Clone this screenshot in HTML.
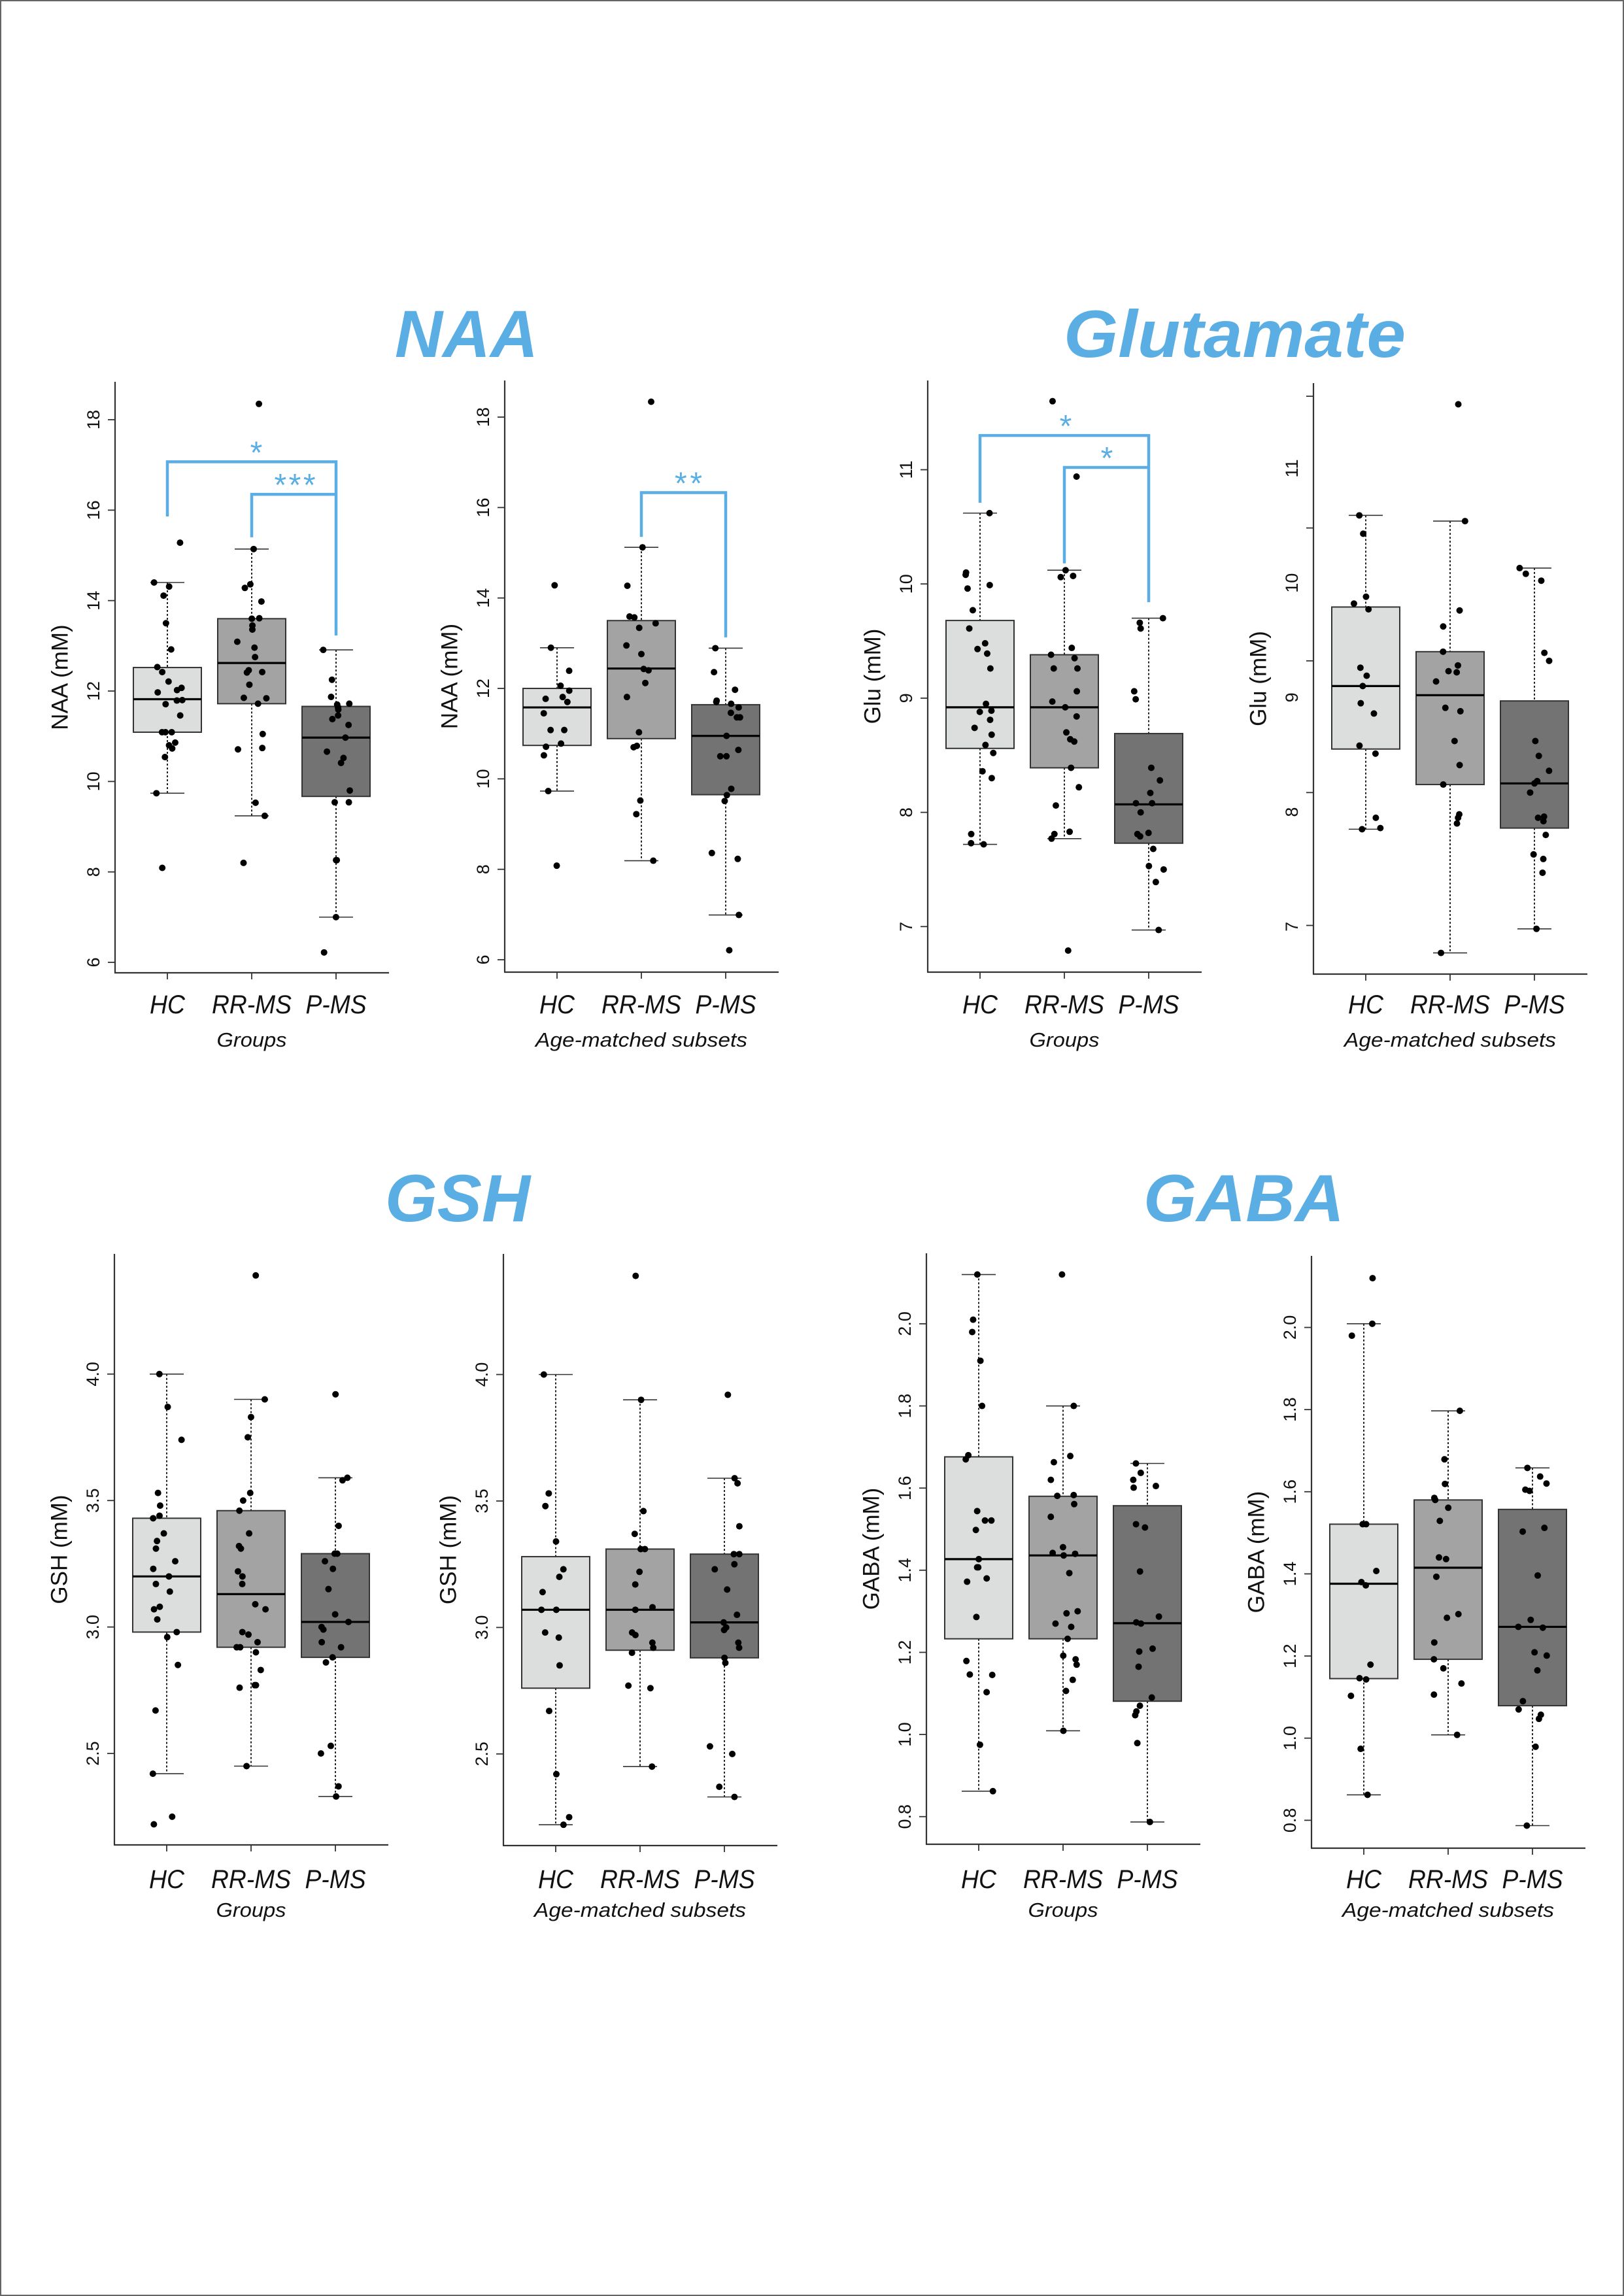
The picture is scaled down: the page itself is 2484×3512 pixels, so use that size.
<!DOCTYPE html>
<html><head><meta charset="utf-8"><title>MRS metabolite box plots</title>
<style>
html,body{margin:0;padding:0;background:#fff;}
svg{display:block;}
.tick{font-family:"Liberation Sans Narrow","Liberation Sans",sans-serif;font-size:27px;fill:#111;}
.ytitle{font-family:"Liberation Sans Narrow","Liberation Sans",sans-serif;font-size:35px;fill:#111;}
.cat{font-family:"Liberation Sans",sans-serif;font-style:italic;font-size:40px;fill:#111;}
.sub{font-family:"Liberation Sans",sans-serif;font-style:italic;font-size:31px;fill:#111;}
.title{font-family:"Liberation Sans",sans-serif;font-style:italic;font-weight:bold;font-size:102px;fill:#5aaee3;}
.star{font-family:"Liberation Sans",sans-serif;font-size:48px;fill:#5aaee3;}
</style></head>
<body>
<svg id="fig" width="2484" height="3512" viewBox="0 0 2484 3512" xmlns="http://www.w3.org/2000/svg">
<rect x="1" y="1" width="2482" height="3510" fill="#fff" stroke="#666" stroke-width="2"/>
<text class="title" x="604" y="546" textLength="219" lengthAdjust="spacingAndGlyphs">NAA</text>
<text class="title" x="1627" y="546" textLength="523" lengthAdjust="spacingAndGlyphs">Glutamate</text>
<text class="title" x="589" y="1868" textLength="222" lengthAdjust="spacingAndGlyphs">GSH</text>
<text class="title" x="1749" y="1868" textLength="307" lengthAdjust="spacingAndGlyphs">GABA</text>
</svg>
<script>
const categories = ["HC","RR-MS","P-MS"];

// ---- NAA groups ----
const naaGrpBoxes = [[9.74,11.09,11.82,12.52,14.40],[9.24,11.72,12.62,13.60,15.14],[7.00,9.67,10.97,11.66,12.91]];
const naaGrpHC = [15.28,14.40,14.31,14.11,13.50,12.92,12.53,12.42,12.21,12.07,12.02,11.97,11.80,11.79,11.71,11.46,11.09,11.09,11.09,10.86,10.80,10.73,10.54,9.74,8.09];
const naaGrpRR = [18.35,15.14,14.36,14.28,13.98,13.61,13.60,13.45,13.36,13.09,12.96,12.75,12.46,12.42,12.41,12.14,11.85,11.84,11.72,11.05,10.74,10.71,9.53,9.24,8.20];
const naaGrpP = [12.91,12.25,11.87,11.72,11.70,11.64,11.63,11.59,11.46,11.38,11.25,10.97,10.66,10.52,10.41,9.80,9.54,9.54,8.26,8.26,7.00,6.22];
// ---- NAA age-matched ----
const naaAgeBoxes = [[9.73,10.74,11.58,12.00,12.90],[8.19,10.89,12.44,13.50,15.12],[6.99,9.65,10.95,11.64,12.89]];
const naaAgeHC = [14.28,12.90,12.39,12.06,11.95,11.81,11.77,11.70,11.45,11.08,11.08,10.78,10.71,10.52,9.73,8.08];
const naaAgeRR = [18.34,15.12,14.27,13.59,13.57,13.44,13.34,12.95,12.76,12.43,12.40,12.12,11.81,11.03,10.73,10.70,9.52,9.22,8.19];
const naaAgeP = [12.89,12.36,11.97,11.73,11.70,11.66,11.58,11.46,11.36,11.36,10.95,10.64,10.50,10.50,9.78,9.64,9.51,8.36,8.23,6.99,6.21];
const naaTicks = [6,8,10,12,14,16,18];
const naaTickLabels = ["6","8","10","12","14","16","18"];
// ---- Glu groups ----
const gluGrpBoxes = [[7.72,8.56,8.92,9.68,10.62],[7.77,8.39,8.92,9.38,10.12],[6.97,7.73,8.07,8.69,9.70]];
const gluGrpHC = [10.62,10.10,10.08,9.99,9.96,9.77,9.61,9.48,9.43,9.39,9.26,8.95,8.89,8.88,8.81,8.74,8.68,8.59,8.52,8.36,8.30,7.81,7.73,7.72];
const gluGrpRR = [11.60,10.94,10.12,10.07,10.06,9.44,9.38,9.35,9.26,9.26,9.06,8.97,8.92,8.84,8.70,8.64,8.62,8.39,8.22,8.06,7.83,7.81,7.77,6.79];
const gluGrpP = [9.70,9.66,9.61,9.06,8.99,8.39,8.28,8.17,8.08,8.08,8.00,7.82,7.81,7.79,7.68,7.53,7.50,7.39,6.97];
// ---- Glu age-matched ----
const gluAgeBoxes = [[7.85,8.55,9.10,9.79,10.59],[6.77,8.24,9.02,9.40,10.54],[6.98,7.86,8.25,8.97,10.13]];
const gluAgeHC = [10.59,10.43,9.88,9.82,9.77,9.26,9.19,9.10,8.95,8.86,8.58,8.51,7.95,7.86,7.85];
const gluAgeRR = [11.56,10.54,9.76,9.62,9.40,9.28,9.23,9.22,9.14,8.91,8.88,8.62,8.41,8.24,7.98,7.95,7.90,6.77];
const gluAgeP = [10.13,10.08,10.02,9.39,9.32,8.62,8.49,8.36,8.27,8.25,8.17,7.96,7.95,7.92,7.80,7.63,7.59,7.47,6.98];
const gluTicks = [7,8,9,10,11];
const gluTickLabels = ["7","8","9","10","11"];
const gluAgeTickMarks = [7.01,8.17,9.32,10.48,11.63];
// ---- GSH groups ----
const gshGrpBoxes = [[2.42,2.98,3.20,3.43,4.00],[2.45,2.92,3.13,3.46,3.90],[2.33,2.88,3.02,3.29,3.59]];
const gshGrpHC = [4.00,3.87,3.74,3.53,3.48,3.44,3.43,3.37,3.34,3.31,3.26,3.23,3.20,3.17,3.14,3.08,3.07,3.03,2.98,2.96,2.85,2.67,2.42,2.25,2.22];
const gshGrpRR = [4.39,3.90,3.83,3.75,3.53,3.50,3.46,3.37,3.32,3.31,3.22,3.20,3.17,3.09,3.07,2.98,2.97,2.94,2.92,2.92,2.90,2.83,2.77,2.77,2.76,2.45];
const gshGrpP = [3.92,3.59,3.58,3.40,3.29,3.29,3.26,3.23,3.15,3.05,3.02,3.00,2.99,2.94,2.92,2.88,2.86,2.53,2.50,2.37,2.33];
// ---- GSH age-matched ----
const gshAgeBoxes = [[2.22,2.76,3.07,3.28,4.00],[2.45,2.91,3.07,3.31,3.90],[2.33,2.88,3.02,3.29,3.59]];
const gshAgeHC = [4.00,3.53,3.48,3.34,3.23,3.20,3.14,3.07,3.07,2.98,2.96,2.85,2.67,2.42,2.25,2.22];
const gshAgeRR = [4.39,3.90,3.46,3.37,3.31,3.31,3.22,3.17,3.08,3.07,2.98,2.97,2.94,2.92,2.90,2.77,2.76,2.45];
const gshAgeP = [3.92,3.59,3.57,3.40,3.29,3.29,3.25,3.23,3.15,3.05,3.02,3.00,2.99,2.94,2.92,2.88,2.86,2.53,2.50,2.37,2.33];
const gshTicks = [2.5,3.0,3.5,4.0];
const gshTickLabels = ["2.5","3.0","3.5","4.0"];
// ---- GABA groups ----
const gabaGrpBoxes = [[0.862,1.233,1.427,1.676,2.12],[1.009,1.233,1.436,1.58,1.80],[0.787,1.081,1.271,1.557,1.66]];
const gabaGrpHC = [2.12,2.01,1.98,1.91,1.80,1.68,1.67,1.544,1.521,1.521,1.498,1.427,1.407,1.407,1.38,1.372,1.286,1.179,1.146,1.145,1.103,0.975,0.862];
const gabaGrpRR = [2.12,1.80,1.678,1.663,1.62,1.583,1.581,1.561,1.53,1.456,1.442,1.44,1.436,1.393,1.30,1.295,1.27,1.262,1.233,1.192,1.183,1.17,1.133,1.106,1.009];
const gabaGrpP = [1.66,1.637,1.62,1.605,1.601,1.512,1.504,1.397,1.287,1.273,1.27,1.209,1.202,1.165,1.09,1.07,1.056,1.047,0.979,0.787];
// ---- GABA age-matched ----
const gabaAgeBoxes = [[0.862,1.145,1.376,1.521,2.009],[1.008,1.192,1.415,1.58,1.797],[0.787,1.079,1.271,1.557,1.658]];
const gabaAgeHC = [2.12,2.009,1.98,1.521,1.521,1.407,1.38,1.372,1.179,1.146,1.143,1.103,0.974,0.862];
const gabaAgeRR = [1.797,1.679,1.619,1.585,1.58,1.561,1.529,1.44,1.436,1.393,1.302,1.293,1.233,1.192,1.17,1.133,1.106,1.008];
const gabaAgeP = [1.658,1.637,1.62,1.605,1.602,1.512,1.503,1.396,1.288,1.271,1.269,1.209,1.201,1.165,1.09,1.07,1.057,1.047,0.979,0.787];
const gabaTicks = [0.8,1.0,1.2,1.4,1.6,1.8,2.0];
const gabaTickLabels = ["0.8","1.0","1.2","1.4","1.6","1.8","2.0"];

const NS = "http://www.w3.org/2000/svg";
const svg = document.getElementById("fig");
const fills = ["#dcdedd","#a3a3a3","#737373"];
const BLUE = "#5aaee3";
function mk(tag, attrs, parent){
  const e = document.createElementNS(NS, tag);
  for (const k in attrs) e.setAttribute(k, attrs[k]);
  (parent||svg).appendChild(e);
  return e;
}
function jit(i, g){ const s = Math.sin((i+1)*12.9898 + g*78.233)*43758.5453; return (s - Math.floor(s) - 0.5)*46; }

const panels = [
 {id:"naa-groups", ax:176, top:584, bot:1488, vref:18, yref:642, ppu:69.17, ticks:naaTicks, labels:naaTickLabels, boxes:naaGrpBoxes, pts:[naaGrpHC,naaGrpRR,naaGrpP], ytitle:"NAA (mM)", sub:"Groups", cy:1550, sy:1601},
 {id:"naa-age", ax:772, top:582, bot:1487, vref:18, yref:638, ppu:69.17, ticks:naaTicks, labels:naaTickLabels, boxes:naaAgeBoxes, pts:[naaAgeHC,naaAgeRR,naaAgeP], ytitle:"NAA (mM)", sub:"Age-matched subsets", cy:1550, sy:1601},
 {id:"glu-groups", ax:1419, top:582, bot:1487, vref:11, yref:718.5, ppu:174.7, ticks:gluTicks, labels:gluTickLabels, boxes:gluGrpBoxes, pts:[gluGrpHC,gluGrpRR,gluGrpP], ytitle:"Glu (mM)", sub:"Groups", cy:1550, sy:1601},
 {id:"glu-age", ax:2009, top:586, bot:1490, vref:11, yref:716.5, ppu:175.2, ticks:gluTicks, labels:gluTickLabels, tickMarks:gluAgeTickMarks, boxes:gluAgeBoxes, pts:[gluAgeHC,gluAgeRR,gluAgeP], ytitle:"Glu (mM)", sub:"Age-matched subsets", cy:1550, sy:1601},
 {id:"gsh-groups", ax:175, top:1918, bot:2822, vref:4, yref:2101.8, ppu:386.9, ticks:gshTicks, labels:gshTickLabels, boxes:gshGrpBoxes, pts:[gshGrpHC,gshGrpRR,gshGrpP], ytitle:"GSH (mM)", sub:"Groups", cy:2888, sy:2932},
 {id:"gsh-age", ax:770, top:1918, bot:2823, vref:4, yref:2102.5, ppu:386.9, ticks:gshTicks, labels:gshTickLabels, boxes:gshAgeBoxes, pts:[gshAgeHC,gshAgeRR,gshAgeP], ytitle:"GSH (mM)", sub:"Age-matched subsets", cy:2888, sy:2932},
 {id:"gaba-groups", ax:1417, top:1917, bot:2821, vref:2, yref:2024.9, ppu:628.2, ticks:gabaTicks, labels:gabaTickLabels, boxes:gabaGrpBoxes, pts:[gabaGrpHC,gabaGrpRR,gabaGrpP], ytitle:"GABA (mM)", sub:"Groups", cy:2888, sy:2932},
 {id:"gaba-age", ax:2006, top:1921, bot:2827, vref:2, yref:2030.5, ppu:628.2, ticks:gabaTicks, labels:gabaTickLabels, boxes:gabaAgeBoxes, pts:[gabaAgeHC,gabaAgeRR,gabaAgeP], ytitle:"GABA (mM)", sub:"Age-matched subsets", cy:2888, sy:2932}
];
const catOffsets = [80,209,338];
const catWidths = [54,122,93];

panels.forEach((p, pi) => {
  const g = mk("g", {});
  
  
  const y = v => p.yref + (p.vref - v) * p.ppu;
  const xc = c => p.ax + catOffsets[c];
  // axes
  const ya = mk("line", {x1:p.ax, y1:p.top, x2:p.ax, y2:p.bot, stroke:"#333", "stroke-width":2.2}, g);
  
  
  const xa = mk("line", {x1:p.ax-1, y1:p.bot, x2:p.ax+419, y2:p.bot, stroke:"#333", "stroke-width":2.2}, g);
  
  
  const markVals = p.tickMarks || p.ticks;
  markVals.forEach(v => {
    const t = mk("line", {x1:p.ax-11, y1:y(v), x2:p.ax, y2:y(v), stroke:"#333", "stroke-width":1.8}, g);
    
    
  });
  p.ticks.forEach((v, i) => {
    const tx = p.ax - 33, ty = y(v);
    const t = mk("text", {class:"tick", x:tx, y:ty, "text-anchor":"middle", "dominant-baseline":"central", transform:`rotate(-90 ${tx} ${ty})`}, g);
    t.textContent = p.labels[i];
    
    
  });
  const tyx = p.ax - 84, tyy = (p.top + p.bot) / 2;
  const yt = mk("text", {class:"ytitle", x:tyx, y:tyy, "text-anchor":"middle", "dominant-baseline":"central", transform:`rotate(-90 ${tyx} ${tyy})`}, g);
  yt.textContent = p.ytitle;
  
  
  // boxes
  p.boxes.forEach((b, c) => {
    const x = xc(c);
    const xt = mk("line", {x1:x, y1:p.bot, x2:x, y2:p.bot+10, stroke:"#333", "stroke-width":1.8}, g);
    
    
    const w1 = mk("line", {x1:x, y1:y(b[4]), x2:x, y2:y(b[3]), stroke:"#222", "stroke-width":2, "stroke-dasharray":"3 3"}, g);
    
    
    const w2 = mk("line", {x1:x, y1:y(b[1]), x2:x, y2:y(b[0]), stroke:"#222", "stroke-width":2, "stroke-dasharray":"3 3"}, g);
    
    
    [b[0], b[4]].forEach(v => {
      const cap = mk("line", {x1:x-26, y1:y(v), x2:x+26, y2:y(v), stroke:"#333", "stroke-width":1.6}, g);
      
      
    });
    const r = mk("rect", {x:x-52, y:y(b[3]), width:104, height:y(b[1])-y(b[3]), fill:fills[c], stroke:"#333", "stroke-width":2}, g);
    
    
    const m = mk("line", {x1:x-52, y1:y(b[2]), x2:x+52, y2:y(b[2]), stroke:"#000", "stroke-width":3.2}, g);
    
    
    const cl = mk("text", {class:"cat", x:x, y:p.cy, "text-anchor":"middle", textLength:catWidths[c], lengthAdjust:"spacingAndGlyphs"}, g);
    cl.textContent = categories[c];
    
    
  });
  p.pts.forEach((arr, c) => {
    arr.forEach((v, i) => {
      const d = mk("circle", {cx:xc(c) + jit(i, c + pi*3), cy:y(v), r:5, fill:"#000"}, g);
      
      
    });
  });
  const st = mk("text", {class:"sub", x:p.ax + 209, y:p.sy, "text-anchor":"middle", textLength: p.sub === "Groups" ? 107 : 324, lengthAdjust:"spacingAndGlyphs"}, g);
  st.textContent = p.sub;
  
  
  p.y = y; p.xc = xc;
});

// significance brackets: [panel, fromCat, toCat, topValue, leftBottomValue, rightBottomValue, label, starsWidth, labelX]
const brackets = [
  [0, 0, 2, 17.07, 15.86, 13.23, "*", 19, 392],
  [0, 1, 2, 16.35, 15.40, 16.35, "***", 63, 451],
  [1, 1, 2, 16.33, 15.35, 13.13, "**", 42, 1053],
  [2, 0, 2, 11.30, 10.71, 9.84, "*", 19, 1630],
  [2, 1, 2, 11.02, 10.18, 11.02, "*", 19, 1693]
];
brackets.forEach(b => {
  const p = panels[b[0]];
  const x1 = p.xc(b[1]), x2 = p.xc(b[2]);
  const yt = p.y(b[3]);
  const pl = mk("polyline", {points:`${x1},${p.y(b[4])} ${x1},${yt} ${x2},${yt} ${x2},${p.y(b[5])}`, fill:"none", stroke:BLUE, "stroke-width":4.5});
  
  
  const s = mk("text", {class:"star", x:b[8], y:yt - 25 + 27, "text-anchor":"middle", textLength:b[7], lengthAdjust:"spacing"});
  s.textContent = b[6];
  
  
});
</script>
</body></html>
